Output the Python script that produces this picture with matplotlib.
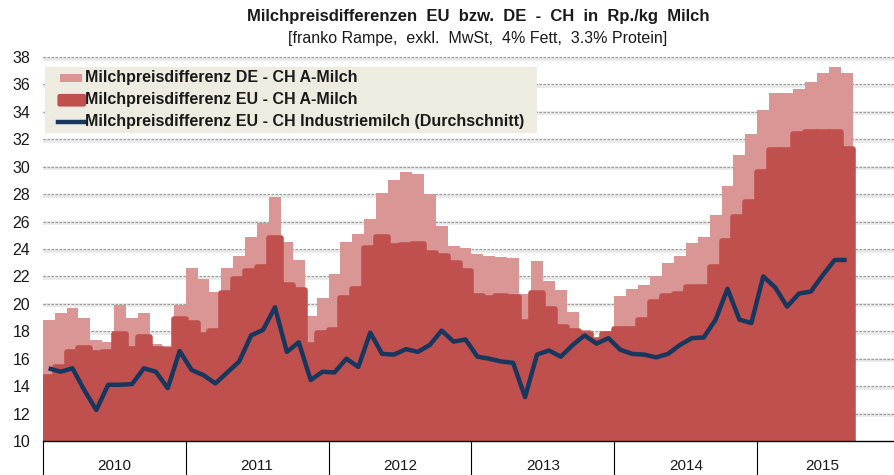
import matplotlib
matplotlib.use('Agg')
import matplotlib.pyplot as plt
import numpy as np
from matplotlib.patches import Rectangle, FancyBboxPatch
from matplotlib.lines import Line2D
import matplotlib.transforms as mtransforms

plt.rcParams['font.family'] = ['Liberation Sans', 'DejaVu Sans']

# ---------------- data (monthly, Jan 2010 - Aug 2015) ----------------
years = ['2010', '2011', '2012', '2013', '2014', '2015']

de_ch_a = [18.8, 19.3, 19.7, 19.0, 17.4, 17.2, 19.9, 19.0, 19.3, 17.1, 16.9, 19.9,
           22.6, 21.8, 20.9, 22.6, 23.5, 24.9, 25.9, 27.8, 24.5, 23.2, 19.1, 20.4,
           22.2, 24.5, 25.1, 26.2, 28.05, 29.0, 29.65, 29.45, 28.0, 25.7, 24.2, 24.1,
           23.65, 23.5, 23.45, 23.35, 20.7, 23.1, 21.7, 21.0, 19.4, 18.1, 17.5, 17.9,
           20.55, 21.05, 21.4, 22.0, 22.95, 23.5, 24.45, 24.85, 26.45, 28.6, 30.85, 32.35,
           34.15, 35.4, 35.35, 35.65, 36.15, 36.8, 37.3, 36.85]

eu_ch_a = [14.7, 15.4, 16.5, 16.8, 16.4, 16.5, 17.8, 16.7, 17.6, 16.7, 16.6, 18.9,
           18.6, 17.7, 18.0, 20.8, 21.8, 22.4, 22.7, 24.8, 21.4, 21.0, 17.0, 17.9,
           18.1, 20.4, 21.1, 24.1, 24.9, 24.2, 24.3, 24.4, 23.7, 23.5, 23.0, 22.4,
           20.6, 20.4, 20.6, 20.5, 18.7, 20.8, 19.6, 18.3, 18.0, 17.8, 17.4, 17.8,
           18.15, 18.2, 18.8, 20.1, 20.6, 20.7, 21.2, 21.2, 22.7, 24.6, 26.3, 27.4,
           29.6, 31.2, 31.2, 32.4, 32.55, 32.55, 32.5, 31.3]

eu_ch_ind = [15.3, 15.05, 15.3, 13.7, 12.26, 14.1, 14.1, 14.15, 15.3, 15.05, 13.85, 16.56,
             15.18, 14.8, 14.2, 15.0, 15.8, 17.7, 18.1, 19.75, 16.5, 17.2, 14.45, 15.05,
             15.0, 16.0, 15.4, 17.9, 16.35, 16.3, 16.7, 16.5, 17.0, 18.05, 17.25, 17.4,
             16.15, 16.0, 15.8, 15.7, 13.2, 16.3, 16.6, 16.15, 17.0, 17.7, 17.1, 17.5,
             16.65, 16.35, 16.3, 16.1, 16.35, 17.0, 17.5, 17.55, 18.85, 21.1, 18.85, 18.6,
             22.0, 21.2, 19.8, 20.75, 20.9, 22.1, 23.2, 23.2]

series_labels = ['Milchpreisdifferenz DE - CH A-Milch',
                 'Milchpreisdifferenz EU - CH A-Milch',
                 'Milchpreisdifferenz EU - CH Industriemilch (Durchschnitt)']
title = 'Milchpreisdifferenzen  EU  bzw.  DE  -  CH  in  Rp./kg  Milch'
subtitle = '[franko Rampe,  exkl.  MwSt,  4% Fett,  3.3% Protein]'
yticks = list(range(10, 39, 2))

# ---------------- style ----------------
PINK = '#D99694'
DARK = '#C0504D'
BLUE = '#17375E'
LEGBG = '#EEECE1'
TXT = '#1a1a1a'

W, H = 895, 475
fig = plt.figure(figsize=(W / 100, H / 100), dpi=100)


def fx(px):
    return px / W


def fy(py):
    return 1 - py / H


x_left, x_right, y_top, y_bot = 42.7, 895.0, 57.0, 441.0
ax = fig.add_axes([fx(x_left), fy(y_bot), (x_right - x_left) / W, (y_bot - y_top) / H])

n = len(de_ch_a)
x = np.arange(n)
month_px = 11.91
ax.set_xlim(0, (x_right - x_left) / month_px)
ax.set_ylim(10, 38)

# gridlines with soft shadow
shadow_tr = mtransforms.offset_copy(ax.transData, fig=fig, y=-1.5, units='dots')
for v in yticks[1:]:
    ax.plot([0, 100], [v, v], color='#e8e8e8', lw=2.6, transform=shadow_tr,
            zorder=0.5, clip_on=False, solid_capstyle='butt')
    ax.plot([0, 100], [v, v], color='#9a9a9a', lw=0.8, ls=(0, (2.2, 1.4)),
            zorder=1, clip_on=False)

ax.bar(x, de_ch_a, width=1.0, align='edge', color=PINK, linewidth=0, zorder=2)
bars = ax.bar(x, eu_ch_a, width=1.0, align='edge', color=DARK, edgecolor=DARK,
              linewidth=4, zorder=3)
for b in bars:
    b.set_joinstyle('round')
ax.plot(x + 0.5, eu_ch_ind, color=BLUE, lw=3.2, zorder=4,
        solid_joinstyle='round', solid_capstyle='butt')

for s in ['left', 'right', 'top']:
    ax.spines[s].set_visible(False)
ax.spines['bottom'].set_color('black')
ax.spines['bottom'].set_linewidth(1.0)
ax.spines['bottom'].set_zorder(5)
ax.set_yticks(yticks)
ax.set_yticklabels([str(v) for v in yticks])
ax.tick_params(axis='y', length=0, pad=9, labelsize=11.5, labelcolor=TXT)
ax.set_xticks([])

# year category axis
blend = mtransforms.blended_transform_factory(ax.transData, ax.transAxes)
for k in range(len(years)):
    ax.plot([12 * k, 12 * k], [0, -0.12], transform=blend, color='black', lw=0.8,
            clip_on=False, zorder=5)
xmax = ax.get_xlim()[1]
for k, yr in enumerate(years):
    cx = 12 * k + 6 if k < len(years) - 1 else (12 * k + xmax) / 2 - 0.3
    ax.text(cx, -0.066, yr, transform=blend, ha='center', va='center',
            fontsize=11, color=TXT)

# titles
fig.text(fx(478), fy(17), title, ha='center', va='center', fontsize=12,
         fontweight='bold', color=TXT)
fig.text(fx(478), fy(38), subtitle, ha='center', va='center', fontsize=11.5,
         color=TXT)

# legend (manual, Excel-like)
fig.patches.append(Rectangle((fx(45), fy(133)), (537 - 45) / W, (133 - 67) / H,
                             transform=fig.transFigure, facecolor=LEGBG,
                             edgecolor='none', zorder=10))
fig.patches.append(Rectangle((fx(60), fy(81.7)), (82 - 60) / W, 7.7 / H,
                             transform=fig.transFigure, facecolor=PINK,
                             edgecolor='none', zorder=11))
fig.patches.append(FancyBboxPatch((fx(59.5), fy(104.5)), (84 - 59.5) / W, 8.5 / H,
                                  boxstyle='round,pad=0', transform=fig.transFigure,
                                  facecolor=DARK, edgecolor=DARK, linewidth=3,
                                  joinstyle='round', zorder=11))
fig.lines.append(Line2D([fx(58.5), fx(85)], [fy(122.3), fy(122.3)],
                        transform=fig.transFigure, color=BLUE, lw=3.2, zorder=11))
for yy, lab in zip([77.3, 99.5, 121.7], series_labels):
    fig.text(fx(85), fy(yy), lab, ha='left', va='center', fontsize=11.5,
             fontweight='bold', color=TXT, zorder=12)

fig.savefig('out.png', dpi=100)
